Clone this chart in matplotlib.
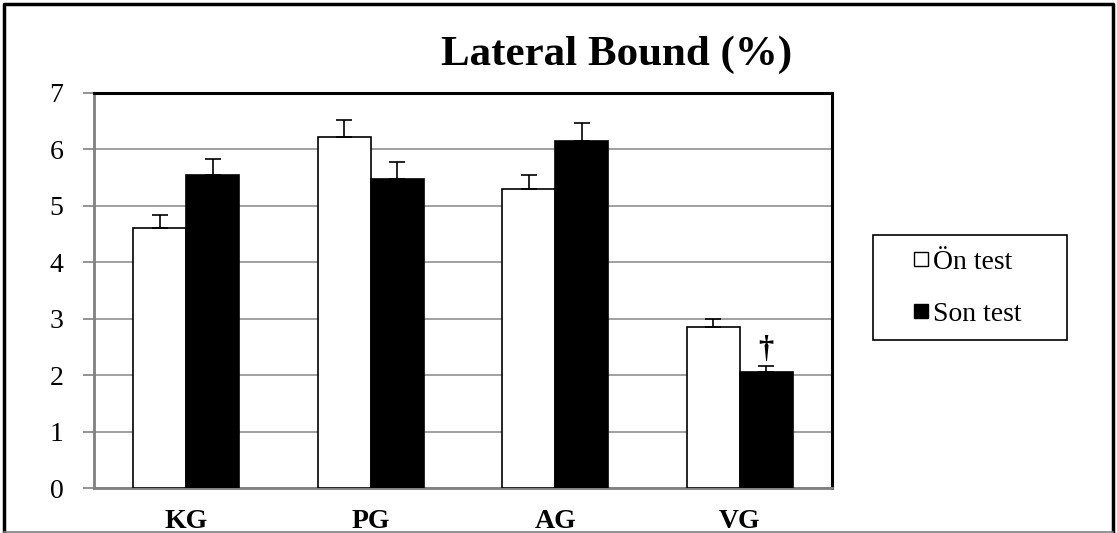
import matplotlib
matplotlib.use("Agg")
import matplotlib.pyplot as plt
import numpy as np
from matplotlib.patches import Rectangle
from matplotlib.lines import Line2D

categories = ["KG", "PG", "AG", "VG"]
on_test = [4.6, 6.22, 5.3, 2.85]
on_err = [0.23, 0.31, 0.25, 0.14]
son_test = [5.55, 5.48, 6.15, 2.05]
son_err = [0.28, 0.29, 0.32, 0.11]
yticks = [0, 1, 2, 3, 4, 5, 6, 7]

plt.rcParams['font.family'] = ['Liberation Serif', 'DejaVu Serif']

W, H = 1117, 533
fig = plt.figure(figsize=(11.17, 5.33), dpi=100)
ax = fig.add_axes([94/W, 1-488/H, (832-94)/W, (488-93)/H])

x = np.arange(len(categories))
w = 0.287
ax.bar(x - w/2, on_test, w, color='white', edgecolor='black', linewidth=1.2, zorder=3)
ax.bar(x + w/2, son_test, w, color='black', edgecolor='black', linewidth=1.2, zorder=3)
ax.errorbar(x - w/2, on_test, yerr=[np.zeros(4), on_err], fmt='none', ecolor='black',
            elinewidth=1.2, capsize=6, capthick=1.2, zorder=4)
ax.errorbar(x + w/2, son_test, yerr=[np.zeros(4), son_err], fmt='none', ecolor='black',
            elinewidth=1.2, capsize=6, capthick=1.2, zorder=4)
ax.text(3 + w/2, son_test[3] + son_err[3] + 0.03, "†", ha='center', va='bottom',
        fontsize=22, fontweight='bold', zorder=5)

ax.set_xlim(-0.5, 3.5)
ax.set_ylim(0, 7)
ax.set_yticks(yticks)
ax.set_yticklabels([str(t) for t in yticks], fontsize=20)
ax.set_xticks(x)
ax.set_xticklabels(categories, fontsize=20, fontweight='bold')
ax.tick_params(axis='x', length=0, pad=15)
ax.tick_params(axis='y', length=8, color='#808080', width=1.2, pad=14)
ax.yaxis.grid(True, color='#909090', linewidth=1.2, zorder=0)
ax.set_axisbelow(True)
for s in ['top', 'right']:
    ax.spines[s].set_color('black')
    ax.spines[s].set_linewidth(2.2)
for s in ['left', 'bottom']:
    ax.spines[s].set_color('#808080')
    ax.spines[s].set_linewidth(2)

fig.text(617/W, 1-55/H, "Lateral Bound (%)", ha='center', va='center',
         fontsize=31, fontweight='bold')

# outer border: black left/top/right, thin grey bottom
fig.lines.append(Line2D([4/W, 4/W, 1113/W, 1113/W], [0, 1-4/H, 1-4/H, 0],
                        transform=fig.transFigure, color='black', linewidth=2.5))
fig.lines.append(Line2D([4/W, 1113/W], [1-531.5/H, 1-531.5/H],
                        transform=fig.transFigure, color='#808080', linewidth=1.2))

# legend box
fig.patches.append(Rectangle((873/W, 1-340/H), (1067-873)/W, (340-235)/H,
                             transform=fig.transFigure, fill=False,
                             edgecolor='black', linewidth=1.2))
handles = [Line2D([], [], marker='s', linestyle='none', markersize=10,
                  markerfacecolor='white', markeredgecolor='black', markeredgewidth=1),
           Line2D([], [], marker='s', linestyle='none', markersize=10,
                  markerfacecolor='black', markeredgecolor='black', markeredgewidth=1)]
leg = fig.legend(handles, ["Ön test", "Son test"], loc='center',
                 bbox_to_anchor=(968/W, 1-288/H), fontsize=20,
                 frameon=False, handlelength=0.5, handletextpad=0.2,
                 labelspacing=0.95, borderpad=0, borderaxespad=0)

fig.savefig("out.png", dpi=100)
